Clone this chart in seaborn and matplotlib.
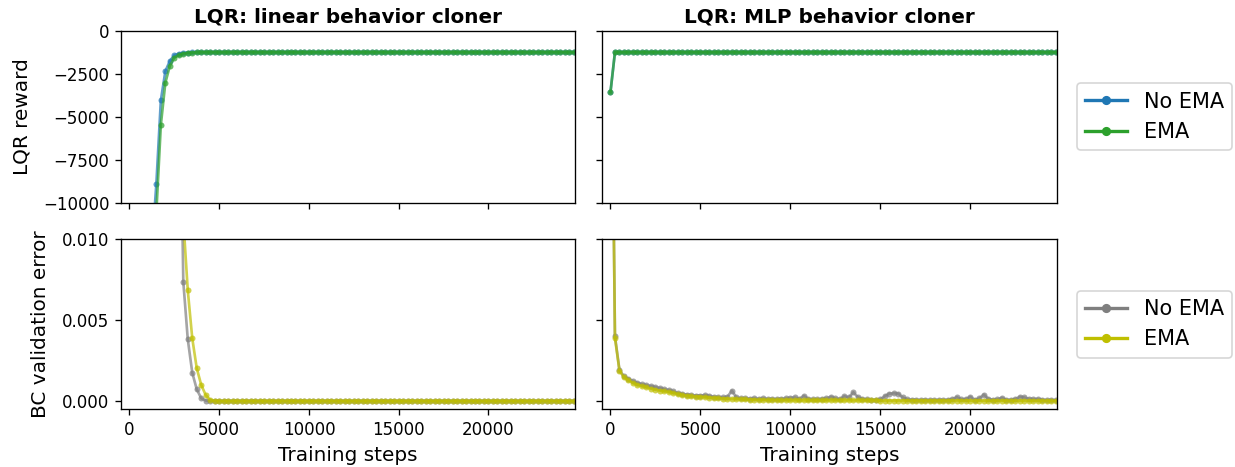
import numpy as np
import pandas as pd
import matplotlib
matplotlib.use("Agg")
import matplotlib.pyplot as plt
from matplotlib.lines import Line2D
import seaborn as sns

# ---------------- data ----------------
STEPS = list(range(0, 25000, 250))  # 100 evaluation steps

SERIES = ["No EMA", "EMA"]

# LQR reward, linear behavior cloner
lin_reward_noema = [
    -80000, -62000, -47000, -35000, -25000, -12700, -8900, -4040, -2350, -1750,
    -1410, -1320, -1280, -1260, -1250, -1245, -1240, -1240, -1240, -1240,
    -1240, -1240, -1240, -1240, -1240, -1240, -1240, -1240, -1240, -1240,
    -1240, -1240, -1240, -1240, -1240, -1240, -1240, -1240, -1240, -1240,
    -1240, -1240, -1240, -1240, -1240, -1240, -1240, -1240, -1240, -1240,
    -1240, -1240, -1240, -1240, -1240, -1240, -1240, -1240, -1240, -1240,
    -1240, -1240, -1240, -1240, -1240, -1240, -1240, -1240, -1240, -1240,
    -1240, -1240, -1240, -1240, -1240, -1240, -1240, -1240, -1240, -1240,
    -1240, -1240, -1240, -1240, -1240, -1240, -1240, -1240, -1240, -1240,
    -1240, -1240, -1240, -1240, -1240, -1240, -1240, -1240, -1240, -1240,
]
lin_reward_ema = [
    -90000, -70000, -54000, -41000, -30000, -18000, -10560, -5470, -3020, -2040,
    -1550, -1400, -1320, -1280, -1260, -1250, -1245, -1240, -1240, -1240,
    -1240, -1240, -1240, -1240, -1240, -1240, -1240, -1240, -1240, -1240,
    -1240, -1240, -1240, -1240, -1240, -1240, -1240, -1240, -1240, -1240,
    -1240, -1240, -1240, -1240, -1240, -1240, -1240, -1240, -1240, -1240,
    -1240, -1240, -1240, -1240, -1240, -1240, -1240, -1240, -1240, -1240,
    -1240, -1240, -1240, -1240, -1240, -1240, -1240, -1240, -1240, -1240,
    -1240, -1240, -1240, -1240, -1240, -1240, -1240, -1240, -1240, -1240,
    -1240, -1240, -1240, -1240, -1240, -1240, -1240, -1240, -1240, -1240,
    -1240, -1240, -1240, -1240, -1240, -1240, -1240, -1240, -1240, -1240,
]

# LQR reward, MLP behavior cloner
mlp_reward_noema = [
    -3570, -1240, -1240, -1240, -1240, -1240, -1240, -1240, -1240, -1240,
    -1240, -1240, -1240, -1240, -1240, -1240, -1240, -1240, -1240, -1240,
    -1240, -1240, -1240, -1240, -1240, -1240, -1240, -1240, -1240, -1240,
    -1240, -1240, -1240, -1240, -1240, -1240, -1240, -1240, -1240, -1240,
    -1240, -1240, -1240, -1240, -1240, -1240, -1240, -1240, -1240, -1240,
    -1240, -1240, -1240, -1240, -1240, -1240, -1240, -1240, -1240, -1240,
    -1240, -1240, -1240, -1240, -1240, -1240, -1240, -1240, -1240, -1240,
    -1240, -1240, -1240, -1240, -1240, -1240, -1240, -1240, -1240, -1240,
    -1240, -1240, -1240, -1240, -1240, -1240, -1240, -1240, -1240, -1240,
    -1240, -1240, -1240, -1240, -1240, -1240, -1240, -1240, -1240, -1240,
]
mlp_reward_ema = [
    -3570, -1240, -1240, -1240, -1240, -1240, -1240, -1240, -1240, -1240,
    -1240, -1240, -1240, -1240, -1240, -1240, -1240, -1240, -1240, -1240,
    -1240, -1240, -1240, -1240, -1240, -1240, -1240, -1240, -1240, -1240,
    -1240, -1240, -1240, -1240, -1240, -1240, -1240, -1240, -1240, -1240,
    -1240, -1240, -1240, -1240, -1240, -1240, -1240, -1240, -1240, -1240,
    -1240, -1240, -1240, -1240, -1240, -1240, -1240, -1240, -1240, -1240,
    -1240, -1240, -1240, -1240, -1240, -1240, -1240, -1240, -1240, -1240,
    -1240, -1240, -1240, -1240, -1240, -1240, -1240, -1240, -1240, -1240,
    -1240, -1240, -1240, -1240, -1240, -1240, -1240, -1240, -1240, -1240,
    -1240, -1240, -1240, -1240, -1240, -1240, -1240, -1240, -1240, -1240,
]

# BC validation error, linear behavior cloner
lin_err_noema = [
    0.35, 0.28, 0.22, 0.17, 0.13, 0.10, 0.08, 0.065, 0.055, 0.047,
    0.040, 0.025, 0.00736, 0.00381, 0.00175, 0.00072, 0.00017, 0.00003, 0.00001, 0.0,
    0.0, 0.0, 0.0, 0.0, 0.0, 0.0, 0.0, 0.0, 0.0, 0.0,
    0.0, 0.0, 0.0, 0.0, 0.0, 0.0, 0.0, 0.0, 0.0, 0.0,
    0.0, 0.0, 0.0, 0.0, 0.0, 0.0, 0.0, 0.0, 0.0, 0.0,
    0.0, 0.0, 0.0, 0.0, 0.0, 0.0, 0.0, 0.0, 0.0, 0.0,
    0.0, 0.0, 0.0, 0.0, 0.0, 0.0, 0.0, 0.0, 0.0, 0.0,
    0.0, 0.0, 0.0, 0.0, 0.0, 0.0, 0.0, 0.0, 0.0, 0.0,
    0.0, 0.0, 0.0, 0.0, 0.0, 0.0, 0.0, 0.0, 0.0, 0.0,
    0.0, 0.0, 0.0, 0.0, 0.0, 0.0, 0.0, 0.0, 0.0, 0.0,
]
lin_err_ema = [
    0.40, 0.33, 0.27, 0.21, 0.16, 0.12, 0.09, 0.07, 0.055, 0.044,
    0.034, 0.022, 0.0112, 0.00683, 0.00387, 0.00202, 0.00099, 0.00037, 0.00006, 0.00001,
    0.0, 0.0, 0.0, 0.0, 0.0, 0.0, 0.0, 0.0, 0.0, 0.0,
    0.0, 0.0, 0.0, 0.0, 0.0, 0.0, 0.0, 0.0, 0.0, 0.0,
    0.0, 0.0, 0.0, 0.0, 0.0, 0.0, 0.0, 0.0, 0.0, 0.0,
    0.0, 0.0, 0.0, 0.0, 0.0, 0.0, 0.0, 0.0, 0.0, 0.0,
    0.0, 0.0, 0.0, 0.0, 0.0, 0.0, 0.0, 0.0, 0.0, 0.0,
    0.0, 0.0, 0.0, 0.0, 0.0, 0.0, 0.0, 0.0, 0.0, 0.0,
    0.0, 0.0, 0.0, 0.0, 0.0, 0.0, 0.0, 0.0, 0.0, 0.0,
    0.0, 0.0, 0.0, 0.0, 0.0, 0.0, 0.0, 0.0, 0.0, 0.0,
]

# BC validation error, MLP behavior cloner
mlp_err_noema = [
    0.03, 0.0040, 0.00192, 0.00152, 0.00138, 0.00124, 0.00112, 0.00104, 0.00098, 0.00092,
    0.00086, 0.00080, 0.00072, 0.00068, 0.00060, 0.00048, 0.00044, 0.00040, 0.00036, 0.00034,
    0.00034, 0.00036, 0.00032, 0.00026, 0.00024, 0.00022, 0.00026, 0.00064, 0.00022, 0.00016,
    0.00016, 0.00014, 0.00016, 0.00013, 0.00016, 0.00012, 0.00013, 0.00012, 0.00014, 0.00016,
    0.00020, 0.00022, 0.00014, 0.00032, 0.00014, 0.00010, 0.00010, 0.00014, 0.00016, 0.00026,
    0.00016, 0.00012, 0.00030, 0.00022, 0.00054, 0.00024, 0.00014, 0.00010, 0.00008, 0.00008,
    0.00010, 0.00030, 0.00046, 0.00048, 0.00046, 0.00022, 0.00010, 0.00008, 0.00007, 0.00006,
    0.00007, 0.00006, 0.00006, 0.00007, 0.00006, 0.00008, 0.00012, 0.00024, 0.00010, 0.00012,
    0.00026, 0.00008, 0.00016, 0.00040, 0.00014, 0.00008, 0.00010, 0.00020, 0.00008, 0.00007,
    0.00012, 0.00026, 0.00022, 0.00014, 0.00012, 0.00013, 0.00008, 0.00006, 0.00006, 0.00005,
]
mlp_err_ema = [
    0.03, 0.0039, 0.00188, 0.00146, 0.00128, 0.00112, 0.00100, 0.00092, 0.00084, 0.00076,
    0.00070, 0.00064, 0.00060, 0.00055, 0.00049, 0.00042, 0.00036, 0.00032, 0.00029, 0.00027,
    0.00025, 0.00023, 0.00021, 0.00019, 0.00017, 0.00015, 0.00014, 0.00013, 0.00012, 0.00011,
    0.00010, 0.00009, 0.00008, 0.00007, 0.00007, 0.00006, 0.00006, 0.00005, 0.00005, 0.00005,
    0.00004, 0.00004, 0.00004, 0.00004, 0.00004, 0.00004, 0.00004, 0.00004, 0.00004, 0.00004,
    0.00004, 0.00004, 0.00004, 0.00004, 0.00004, 0.00004, 0.00004, 0.00004, 0.00004, 0.00004,
    0.00003, 0.00003, 0.00003, 0.00003, 0.00003, 0.00003, 0.00003, 0.00003, 0.00003, 0.00003,
    0.00003, 0.00003, 0.00003, 0.00003, 0.00003, 0.00003, 0.00003, 0.00003, 0.00003, 0.00003,
    0.00002, 0.00002, 0.00002, 0.00002, 0.00002, 0.00002, 0.00002, 0.00002, 0.00002, 0.00002,
    0.00002, 0.00002, 0.00002, 0.00002, 0.00002, 0.00002, 0.00002, 0.00002, 0.00002, 0.00002,
]

TITLES = ["LQR: linear behavior cloner", "LQR: MLP behavior cloner"]
YLABELS = ["LQR reward", "BC validation error"]
XLABEL = "Training steps"
REWARD_TICKS = [0, -2500, -5000, -7500, -10000]
ERR_TICKS = [0.000, 0.005, 0.010]
XTICKS = [0, 5000, 10000, 15000, 20000]

REWARD_COLORS = {"No EMA": "#1f77b4", "EMA": "#2ca02c"}
ERR_COLORS = {"No EMA": "#7f7f7f", "EMA": "#bfbf00"}


def frame(noema, ema):
    return pd.DataFrame({
        "step": STEPS * 2,
        "value": list(noema) + list(ema),
        "series": ["No EMA"] * len(noema) + ["EMA"] * len(ema),
    })


panels = {
    (0, 0): (frame(lin_reward_noema, lin_reward_ema), REWARD_COLORS),
    (0, 1): (frame(mlp_reward_noema, mlp_reward_ema), REWARD_COLORS),
    (1, 0): (frame(lin_err_noema, lin_err_ema), ERR_COLORS),
    (1, 1): (frame(mlp_err_noema, mlp_err_ema), ERR_COLORS),
}

# ---------------- figure ----------------
DPI = 120
fig, axes = plt.subplots(2, 2, figsize=(1235 / DPI, 467 / DPI), dpi=DPI)

W, H = 1235.0, 467.0
col_x = [(121, 575), (602, 1057)]
row_y = [(31, 202.5), (239, 409.3)]
for r in range(2):
    for c in range(2):
        x0, x1 = col_x[c]
        y0, y1 = row_y[r]
        axes[r, c].set_position([x0 / W, 1 - y1 / H, (x1 - x0) / W, (y1 - y0) / H])

for (r, c), (df, pal) in panels.items():
    ax = axes[r, c]
    sns.lineplot(data=df, x="step", y="value", hue="series", hue_order=SERIES,
                 palette=pal, marker="o", markersize=3.6, markeredgewidth=0,
                 linewidth=1.6, alpha=0.7, legend=False, ax=ax,
                 estimator=None, sort=False)
    ax.set_xlim(-470, 24820)
    ax.set_xticks(XTICKS)
    if r == 0:
        ax.set_ylim(-10000, 0)
        ax.set_yticks(REWARD_TICKS)
        ax.set_title(TITLES[c], fontsize=12, fontweight="bold", pad=5)
        ax.tick_params(axis="x", labelbottom=False)
        ax.set_xlabel("")
    else:
        ax.set_ylim(-0.00051, 0.010)
        ax.set_yticks(ERR_TICKS)
        ax.set_yticklabels([f"{t:.3f}" for t in ERR_TICKS])
        ax.set_xlabel(XLABEL, fontsize=12)
    if c == 0:
        ax.set_ylabel(YLABELS[r], fontsize=12, labelpad=7)
    else:
        ax.set_ylabel("")
        ax.tick_params(axis="y", labelleft=False)

for r, pal in enumerate([REWARD_COLORS, ERR_COLORS]):
    handles = [Line2D([0], [0], color=pal[s], lw=2, marker="o", markersize=4.5)
               for s in SERIES]
    axes[r, 1].legend(handles, SERIES, loc="center left",
                      bbox_to_anchor=(1.044, 0.5), borderaxespad=0,
                      fontsize=12.5, frameon=True)

fig.savefig("out.png", dpi=DPI)
